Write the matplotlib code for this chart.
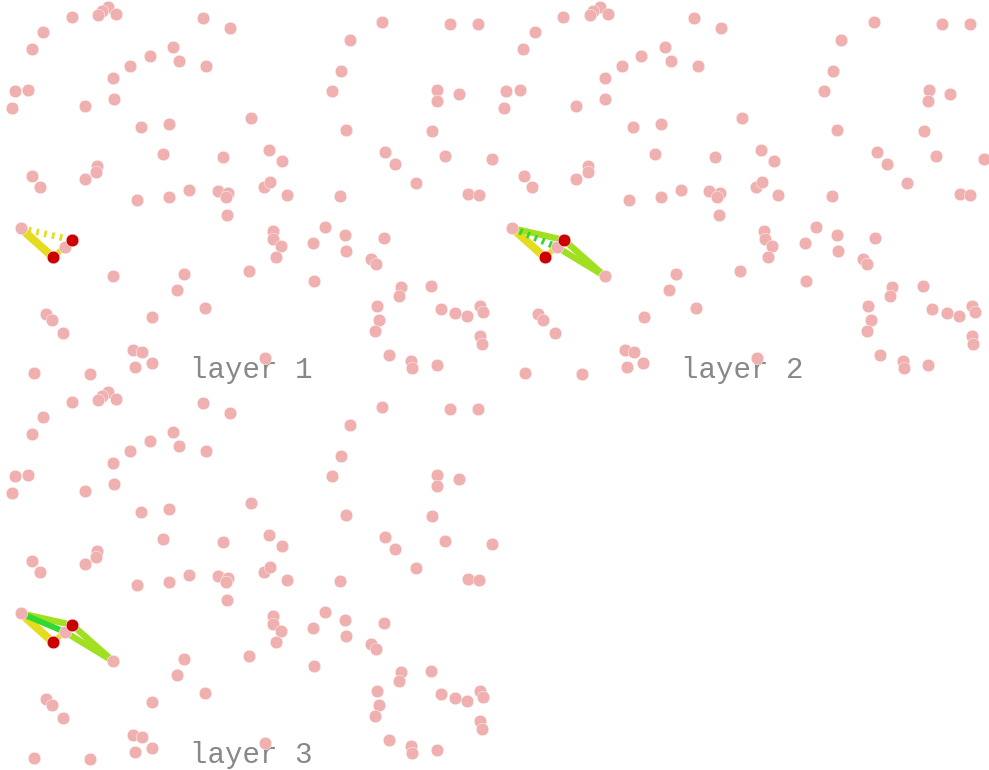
import matplotlib
matplotlib.use("Agg")
import matplotlib.pyplot as plt

# node positions (panel pixel units, y grows downward)
node_x = [108.3, 101.7, 98.3, 116.0, 71.7, 43.3, 31.7, 202.7, 229.7, 173.0,
          149.7, 130.3, 179.0, 206.0, 113.3, 14.7, 28.3, 12.0, 84.7, 113.7,
          141.0, 169.0, 250.7, 163.0, 223.3, 269.3, 282.0, 345.7, 385.3, 395.3,
          444.7, 492.3, 432.0, 437.0, 436.7, 458.7, 382.0, 450.0, 478.3, 349.7,
          341.3, 332.3, 32.3, 40.0, 96.7, 96.0, 84.7, 137.3, 169.0, 189.0,
          217.7, 228.3, 225.7, 227.3, 264.3, 270.3, 286.7, 340.3, 415.7, 468.0,
          478.7, 20.7, 72.3, 65.0, 53.0, 113.3, 272.7, 273.3, 280.7, 276.0,
          313.3, 324.7, 345.3, 346.3, 383.7, 371.3, 375.7, 248.7, 314.0, 184.0,
          177.3, 204.7, 46.3, 51.7, 63.3, 152.3, 400.7, 398.7, 431.0, 376.7,
          379.3, 375.0, 440.7, 455.0, 467.0, 480.0, 483.0, 480.0, 481.7, 388.7,
          411.3, 412.0, 436.7, 265.3, 133.3, 142.0, 135.0, 151.7, 33.7, 90.3]
node_y = [6.7, 11.0, 15.0, 13.7, 16.7, 31.7, 49.3, 18.3, 28.0, 46.7,
          55.7, 65.7, 61.0, 65.7, 78.0, 90.7, 90.0, 107.7, 105.7, 99.3,
          127.3, 124.3, 118.3, 154.0, 157.0, 150.0, 161.0, 130.3, 152.3, 164.3,
          155.7, 158.7, 131.3, 90.3, 100.7, 93.7, 22.0, 24.0, 23.7, 40.0,
          71.3, 91.3, 175.7, 187.3, 165.7, 171.7, 178.7, 200.3, 197.0, 190.3,
          191.3, 193.3, 197.3, 215.0, 186.7, 182.3, 195.0, 196.0, 183.3, 194.0,
          195.3, 228.3, 240.0, 247.0, 257.3, 276.3, 230.7, 239.3, 245.7, 256.7,
          242.7, 227.3, 235.0, 251.3, 237.7, 259.0, 264.0, 271.3, 281.3, 274.3,
          290.3, 308.0, 314.3, 320.3, 332.7, 316.7, 287.0, 295.7, 286.0, 305.7,
          320.3, 330.7, 308.7, 312.7, 316.3, 306.0, 312.0, 336.3, 343.7, 355.3,
          361.3, 367.7, 364.7, 358.0, 350.0, 352.3, 367.3, 363.3, 373.3, 374.3]

# indices of the nodes in the highlighted path
A, C, E, B, D = 61, 62, 63, 64, 65
red_nodes = [B, C]

layer_names = ["layer 1", "layer 2", "layer 3"]

# edges per layer: (from, to, color, width, style)
YEL, LIME, GRN = "#e6dc1e", "#a0e020", "#30d830"
layer_edges = [
    [(A, B, YEL, 5.8, "solid"), (B, C, YEL, 4.0, "solid"), (A, C, YEL, 4.8, "dots")],
    [(A, B, YEL, 5.8, "solid"), (B, C, YEL, 4.0, "solid"), (A, C, LIME, 4.6, "solid"),
     (C, D, LIME, 4.6, "solid"), (E, D, LIME, 4.6, "solid"), (A, E, GRN, 4.8, "dots")],
    [(A, B, YEL, 5.8, "solid"), (B, C, YEL, 4.0, "solid"), (A, C, LIME, 4.6, "solid"),
     (C, D, LIME, 4.6, "solid"), (E, D, LIME, 4.6, "solid"), (A, E, GRN, 4.2, "solid")],
]

W, H = 491.7, 385.0
FW, FH = 989, 770
offsets = [(0, 0), (491.7, 0), (0, 385.0)]

fig = plt.figure(figsize=(FW / 100, FH / 100), dpi=100)

for name, edges, (ox, oy) in zip(layer_names, layer_edges, offsets):
    ax = fig.add_axes([ox / FW, 1 - (oy + H) / FH, W / FW, H / FH])
    ax.set_xlim(0, W)
    ax.set_ylim(H, 0)
    ax.axis("off")

    for i, j, col, lw, style in edges:
        ls = (0, (0.4, 0.8)) if style == "dots" else "-"
        ax.plot([node_x[i], node_x[j]], [node_y[i], node_y[j]], color=col, lw=lw,
                ls=ls, solid_capstyle="butt", dash_capstyle="butt", zorder=2, clip_on=False)

    ax.text(251, 370, name, ha="center", va="center", fontsize=21,
            family="Liberation Mono", color="#888888", zorder=1)

    ax.scatter(node_x, node_y, s=82, color="#f0b0b0", edgecolors="white",
               linewidths=0.3, zorder=3, clip_on=False)
    ax.scatter([node_x[k] for k in red_nodes], [node_y[k] for k in red_nodes], s=82,
               color="#cc0000", edgecolors="white", linewidths=0.3, zorder=4, clip_on=False)

fig.savefig("out.png", dpi=100)
